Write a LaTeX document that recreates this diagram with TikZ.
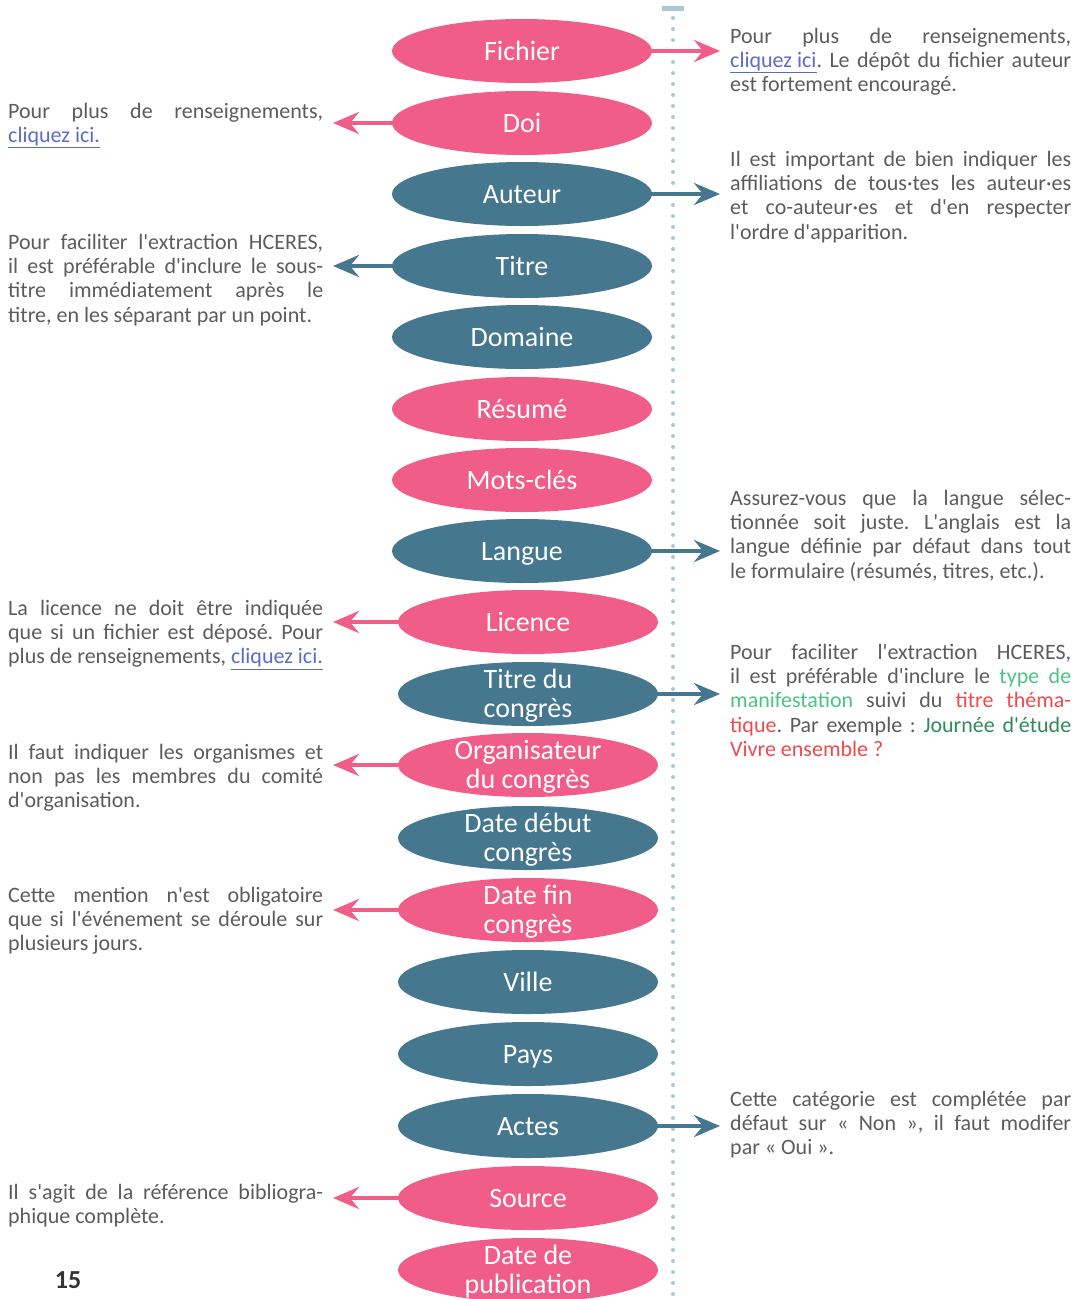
\documentclass[tikz,border=0pt]{standalone}
\usepackage{fontspec}
\setmainfont{Carlito}[Ligatures=TeXOff]
\usetikzlibrary{shapes.geometric,arrows.meta}

\definecolor{fieldpink}{HTML}{F15D89}
\definecolor{fieldteal}{HTML}{45778F}
\definecolor{railblue}{HTML}{A9C8D4}
\definecolor{notegray}{HTML}{5C5C5E}
\definecolor{linkblue}{HTML}{5B6DC2}
\definecolor{lightgreen}{HTML}{4CC383}
\definecolor{redtxt}{HTML}{EE4B4B}
\definecolor{darkgreen}{HTML}{2E8B5A}

\newcommand{\lien}[1]{\textcolor{linkblue}{\underline{#1}}}
\frenchspacing

\begin{document}
\begin{tikzpicture}[x=1pt,y=-1pt,
  field/.style={ellipse, minimum width=260pt, minimum height=64pt, inner sep=0pt,
    text=white, font=\fontsize{28}{29}\selectfont, text height=19pt, text depth=0pt},
  pinkfield/.style={field, fill=fieldpink},
  tealfield/.style={field, fill=fieldteal},
  fieldtext/.style={text=white, font=\fontsize{28}{29}\selectfont, align=center,
    inner sep=0pt, yshift=-2pt},
  note/.style={anchor=north west, text width=315pt, align=justify, inner sep=0pt,
    text=notegray, font=\fontsize{22}{24.2}\selectfont},
  rnote/.style={note, text width=341pt},
  pinkarrow/.style={draw=fieldpink, line width=4.5pt, shorten <=-3pt,
    -{Stealth[length=26pt,width=22pt,inset=9pt]}},
  tealarrow/.style={pinkarrow, draw=fieldteal}]
\useasboundingbox (0,0) rectangle (1079,1299);
\clip (0,0) rectangle (1079,1299);

% dotted rail
\draw[railblue, line width=5pt] (662,8) -- (684,8);
\draw[railblue, line width=4pt, line cap=round, dash pattern=on 0pt off 11pt]
    (673,18) -- (673,1305);

% fields
\node[pinkfield] (fichier) at (522,51) {Fichier};
\node[pinkfield] (doi) at (522,123) {Doi};
\node[tealfield] (auteur) at (522,194) {Auteur};
\node[tealfield] (titre) at (522,266) {Titre};
\node[tealfield] (domaine) at (522,337) {Domaine};
\node[pinkfield] (resume) at (522,409) {Résumé};
\node[pinkfield] (motscles) at (522,480) {Mots-clés};
\node[tealfield] (langue) at (522,551) {Langue};
\node[pinkfield] (licence) at (528,622) {Licence};
\node[tealfield] (congres) at (528,694) {};
\node[fieldtext] (congres-t) at (congres) {Titre du\\congrès};
\node[pinkfield] (orga) at (528,765) {};
\node[fieldtext] (orga-t) at (orga) {Organisateur\\du congrès};
\node[tealfield] (debut) at (528,838) {};
\node[fieldtext] (debut-t) at (debut) {Date début\\congrès};
\node[pinkfield] (fin) at (528,910) {};
\node[fieldtext] (fin-t) at (fin) {Date fin\\congrès};
\node[tealfield] (ville) at (528,982) {Ville};
\node[tealfield] (pays) at (528,1054) {Pays};
\node[tealfield] (actes) at (528,1126) {Actes};
\node[pinkfield] (source) at (528,1198) {Source};
\node[pinkfield] (publi) at (528,1270) {};
\node[fieldtext] (publi-t) at (publi) {Date de\\publication};

% notes, right side
\node[rnote] (fichier-note) at (730,28) {Pour plus de renseignements,\linebreak
  \lien{cliquez ici}. Le dépôt du fichier auteur\linebreak est fortement encouragé.};
\node[rnote] (auteur-note) at (730,151) {Il est important de bien indiquer les\linebreak
  affiliations de tous·tes les auteur·es\linebreak et co-auteur·es et d'en respecter\linebreak
  l'ordre d'apparition.};
\node[rnote] (langue-note) at (730,490) {Assurez-vous que la langue sélec-\linebreak
  tionnée soit juste. L'anglais est la\linebreak langue définie par défaut dans tout\linebreak
  le formulaire (résumés, titres, etc.).};
\node[rnote] (congres-note) at (730,644) {Pour faciliter l'extraction HCERES,\linebreak
  il est préférable d'inclure le \textcolor{lightgreen}{type de}\linebreak
  \textcolor{lightgreen}{manifestation} suivi du \textcolor{redtxt}{titre théma-}\linebreak
  \textcolor{redtxt}{tique}. Par exemple : \textcolor{darkgreen}{Journée d'étude}\linebreak
  \textcolor{redtxt}{Vivre ensemble ?}};
\node[rnote] (actes-note) at (730,1091) {Cette catégorie est complétée par\linebreak
  défaut sur «~Non~», il faut modifer\linebreak par «~Oui~».};

% notes, left side
\node[note] (doi-note) at (8,103) {Pour plus de renseignements,\linebreak
  \lien{cliquez ici.}};
\node[note] (titre-note) at (8,234) {Pour faciliter l'extraction HCERES,\linebreak
  il est préférable d'inclure le sous-\linebreak titre immédiatement après le\linebreak
  titre, en les séparant par un point.};
\node[note] (licence-note) at (8,600) {La licence ne doit être indiquée\linebreak
  que si un fichier est déposé. Pour\linebreak plus~de~renseignements,~\lien{cliquez ici.}};
\node[note] (orga-note) at (8,744) {Il faut indiquer les organismes et\linebreak
  non pas les membres du comité\linebreak d'organisation.};
\node[note] (fin-note) at (8,887) {Cette mention n'est obligatoire\linebreak
  que si l'événement se déroule sur\linebreak plusieurs jours.};
\node[note] (source-note) at (8,1184) {Il s'agit de la référence bibliogra-\linebreak
  phique complète.};

% page number
\node[text=black!80, font=\bfseries\fontsize{26}{26}\selectfont] (page) at (68,1280) {15};

% arrows
\coordinate (tipR) at (720,0);
\coordinate (tipL) at (333,0);
\draw[pinkarrow] (fichier.east) -- (fichier -| tipR);
\draw[pinkarrow] (doi.west) -- (doi -| tipL);
\draw[tealarrow] (auteur.east) -- (auteur -| tipR);
\draw[tealarrow] (titre.west) -- (titre -| tipL);
\draw[tealarrow] (langue.east) -- (langue -| tipR);
\draw[pinkarrow] (licence.west) -- (licence -| tipL);
\draw[tealarrow] (congres.east) -- (congres -| tipR);
\draw[pinkarrow] (orga.west) -- (orga -| tipL);
\draw[pinkarrow] (fin.west) -- (fin -| tipL);
\draw[tealarrow] (actes.east) -- (actes -| tipR);
\draw[pinkarrow] (source.west) -- (source -| tipL);

\end{tikzpicture}
\end{document}
